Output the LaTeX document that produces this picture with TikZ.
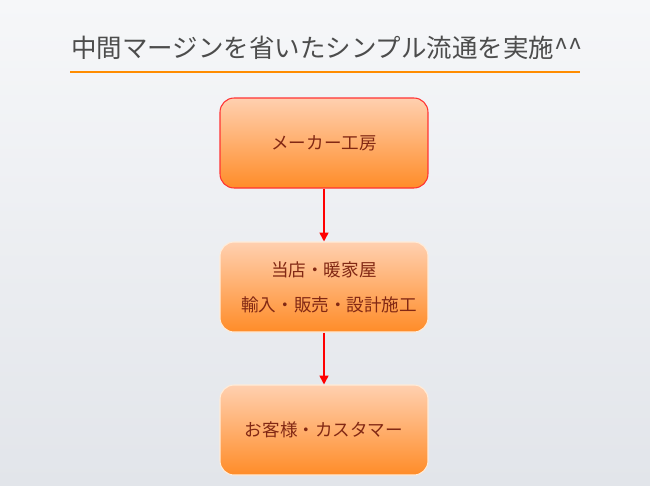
\documentclass[tikz,border=0pt]{standalone}
\usepackage{fontspec}
\setmainfont{Liberation Serif}
\newfontfamily\jp{Noto Sans CJK JP}
\usepackage{tikz}
\usetikzlibrary{arrows.meta, positioning}
\definecolor{boxtop}{RGB}{255,208,176}
\definecolor{boxbot}{RGB}{255,140,40}
\definecolor{boxtext}{RGB}{130,40,20}
\definecolor{bgtop}{RGB}{246,247,249}
\definecolor{bgbot}{RGB}{226,229,234}
\tikzstyle{stage} = [rectangle, rounded corners=8pt, minimum width=4.16cm, minimum height=1.8cm, text centered, draw=white!85!orange, line width=0.6pt, top color=boxtop, bottom color=boxbot, text=boxtext, font=\jp\fontsize{10}{12}\selectfont]
\tikzstyle{arrow} = [red, line width=0.9pt, -{Triangle[length=5pt,width=5pt]}]
\tikzset{every node/.style={align=center}}

\begin{document}
\begin{tikzpicture}[x=0.02cm, y=-0.02cm]
    \shade[top color=bgtop, bottom color=bgbot] (0,0) rectangle (650,485);
    \useasboundingbox (0,0) rectangle (650,485);
    \node (title) [text=black!70, font=\jp\fontsize{14.5}{16}\selectfont] at (327,48) {中間マージンを省いたシンプル流通を実施\^{}\^{}};
    \draw [orange!90!yellow, line width=1.4pt] (70,72) -- (580,72);

    \node (maker) [stage, draw=red!80] at (324,143) {メーカー工房};
    \node (shop)  [stage] at (324,287) {当店・暖家屋\\[8pt]\hspace*{6pt}輸入・販売・設計施工};
    \node (cust)  [stage] at (324,430) {お客様・カスタマー};

    \draw [arrow] (maker) -- (shop);
    \draw [arrow] (shop) -- (cust);
\end{tikzpicture}
\end{document}
